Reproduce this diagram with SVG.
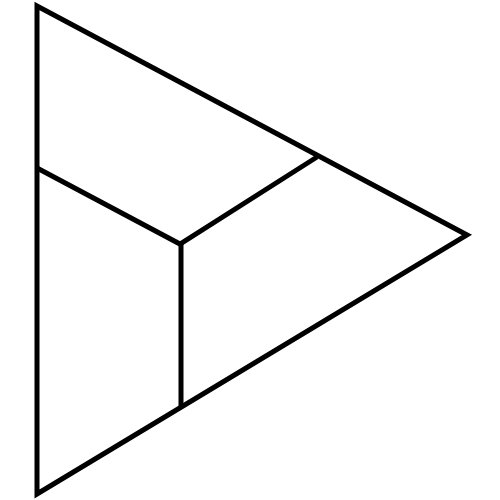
<svg xmlns="http://www.w3.org/2000/svg" width="500" height="500" viewBox="0 0 500 500">
<style>.s{fill:none;stroke:#000;stroke-width:5;stroke-linejoin:miter;stroke-miterlimit:10}</style>
<rect width="500" height="500" fill="#fff"/>
<g id="outline"><polygon class="s" points="37,6 467,235 37,494"/></g>
<g id="connectors">
<polyline class="s" points="37,168 180,244 317,157"/>
<line class="s" x1="181" y1="244" x2="181" y2="408"/>
</g>
</svg>
